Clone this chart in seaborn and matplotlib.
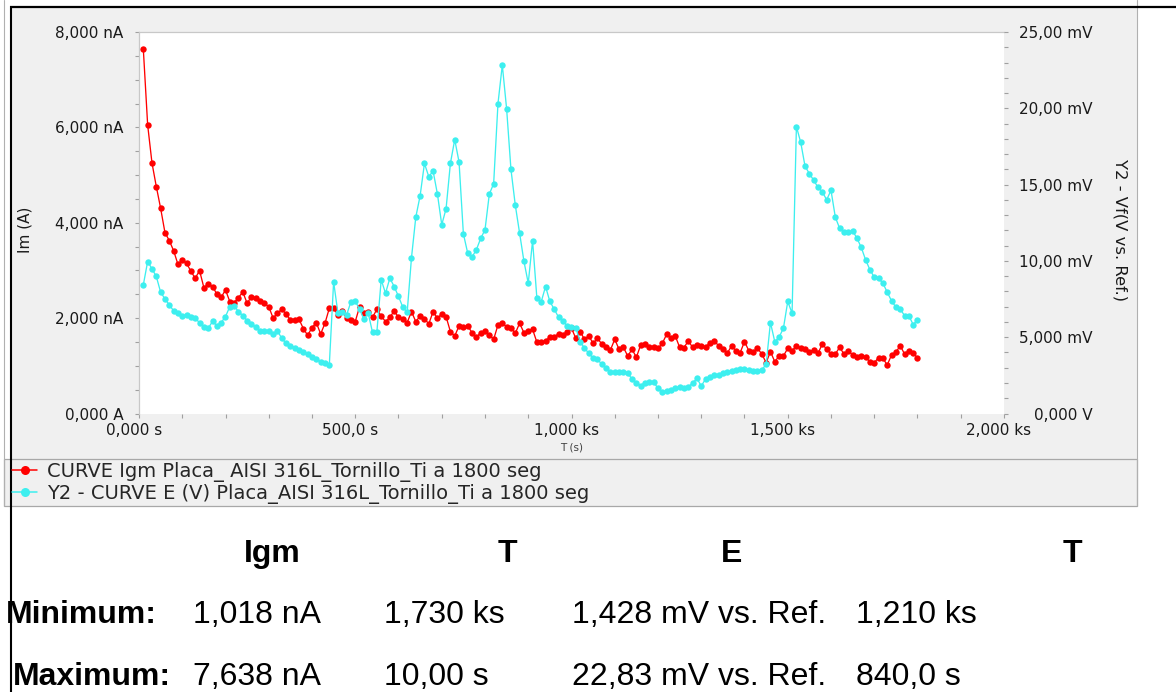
import numpy as np
import matplotlib
matplotlib.use("Agg")
import matplotlib.pyplot as plt
import seaborn as sns
from matplotlib.ticker import FixedLocator, FixedFormatter, MultipleLocator
from matplotlib.patches import Rectangle
from matplotlib.transforms import ScaledTranslation

# ---------------- data ----------------
time_s = np.arange(10, 1801, 10)

igm_nA = [
    7638, 6052, 5255, 4759, 4304, 3794, 3626, 3416, 3129, 3220,
    3150, 2983, 2836, 2997, 2640, 2717, 2661, 2507, 2437, 2591,
    2346, 2325, 2430, 2549, 2311, 2451, 2416, 2367, 2311, 2241,
    2003, 2101, 2185, 2087, 1962, 1962, 1976, 1780, 1640, 1801,
    1906, 1668, 1892, 2206, 2206, 2066, 2150, 1997, 1962, 1927,
    2241, 2101, 2136, 2017, 2185, 2045, 1927, 2017, 2150, 2017,
    1990, 1906, 2136, 1927, 2045, 1990, 1878, 2136, 1997, 2087,
    2031, 1717, 1626, 1836, 1808, 1836, 1696, 1598, 1696, 1731,
    1647, 1556, 1857, 1892, 1822, 1801, 1682, 1892, 1696, 1738,
    1766, 1493, 1493, 1528, 1598, 1612, 1668, 1647, 1717, 1787,
    1577, 1717, 1556, 1626, 1472, 1577, 1458, 1402, 1332, 1556,
    1346, 1388, 1206, 1346, 1178, 1437, 1458, 1402, 1388, 1367,
    1472, 1661, 1577, 1626, 1388, 1381, 1521, 1388, 1437, 1416,
    1388, 1486, 1521, 1423, 1346, 1262, 1416, 1318, 1276, 1507,
    1318, 1297, 1367, 1248, 1066, 1297, 1087, 1206, 1206, 1367,
    1318, 1416, 1367, 1346, 1297, 1332, 1262, 1458, 1346, 1248,
    1248, 1388, 1248, 1318, 1227, 1192, 1206, 1192, 1073, 1066,
    1171, 1157, 1018, 1227, 1283, 1423, 1248, 1318, 1262, 1171,
]

e_mV = [
    8.43, 9.96, 9.48, 8.98, 7.95, 7.51, 7.12, 6.73, 6.57, 6.40,
    6.46, 6.35, 6.29, 5.92, 5.70, 5.59, 6.03, 5.76, 5.96, 6.35,
    7.01, 7.05, 6.68, 6.42, 6.09, 5.87, 5.65, 5.41, 5.41, 5.41,
    5.22, 5.41, 4.93, 4.60, 4.45, 4.32, 4.17, 4.04, 3.88, 3.73,
    3.58, 3.40, 3.29, 3.16, 8.63, 6.57, 6.62, 6.46, 7.32, 7.36,
    6.84, 6.18, 6.57, 5.31, 5.35, 8.76, 7.88, 8.87, 8.32, 7.67,
    6.97, 6.62, 10.20, 12.87, 14.27, 16.39, 15.52, 15.89, 14.38, 12.37,
    13.42, 16.39, 17.95, 16.48, 11.78, 10.51, 10.25, 10.73, 11.47, 12.04,
    14.38, 15.06, 20.31, 22.83, 19.96, 16.00, 13.66, 11.84, 9.98, 8.54,
    11.32, 7.54, 7.32, 8.32, 7.34, 6.84, 6.31, 6.03, 5.76, 5.70,
    5.60, 4.71, 4.28, 3.95, 3.62, 3.55, 3.23, 2.96, 2.75, 2.70,
    2.75, 2.75, 2.64, 2.26, 2.02, 1.83, 2.02, 2.09, 2.05, 1.65,
    1.43, 1.45, 1.54, 1.65, 1.72, 1.65, 1.76, 1.98, 2.31, 1.80,
    2.26, 2.42, 2.53, 2.53, 2.64, 2.70, 2.81, 2.85, 2.92, 2.90,
    2.85, 2.81, 2.81, 2.85, 3.23, 5.96, 4.71, 5.00, 5.59, 7.34,
    6.57, 18.80, 17.77, 16.20, 15.72, 15.28, 14.82, 14.51, 14.01, 14.62,
    12.87, 12.13, 11.87, 11.87, 11.97, 11.49, 10.88, 10.07, 9.42, 8.93,
    8.85, 8.54, 7.95, 7.38, 6.97, 6.84, 6.42, 6.40, 5.83, 6.14,
]

x_ticks = [0, 500, 1000, 1500, 2000]
x_labels = ["0,000 s", "500,0 s", "1,000 ks", "1,500 ks", "2,000 ks"]
y1_ticks = [0, 2000, 4000, 6000, 8000]
y1_labels = ["0,000 A", "2,000 nA", "4,000 nA", "6,000 nA", "8,000 nA"]
y2_ticks = [0, 5, 10, 15, 20, 25]
y2_labels = ["0,000 V", "5,000 mV", "10,00 mV", "15,00 mV", "20,00 mV", "25,00 mV"]

series_labels = ["CURVE Igm Placa_ AISI 316L_Tornillo_Ti a 1800 seg",
                 "Y2 - CURVE E (V) Placa_AISI 316L_Tornillo_Ti a 1800 seg"]
x_title = "T (s)"
y1_title = "Im (A)"
y2_title = "Y2 - Vf(V vs. Ref.)"

table_header = ["Igm", "T", "E", "T"]
row_names = ["Minimum:", "Maximum:"]
row_min = ["1,018 nA", "1,730 ks", "1,428 mV vs. Ref.", "1,210 ks"]
row_max = ["7,638 nA", "10,00 s", "22,83 mV vs. Ref.", "840,0 s"]

# ---------------- style ----------------
sns.set_style("white")
plt.rcParams['font.family'] = ['DejaVu Sans']

RED = '#FF0000'
CYAN = '#3DEFEF'
PANEL = '#F0F0F0'
TXT = '#1A1A1A'

W, H = 1176, 692
fig = plt.figure(figsize=(W / 100, H / 100), dpi=100)
fig.patch.set_facecolor('white')

# background / frame in pixel coordinates
bg = fig.add_axes([0, 0, 1, 1], zorder=0)
bg.set_xlim(0, W)
bg.set_ylim(H, 0)
bg.axis('off')
bg.add_patch(Rectangle((10, 6), 1127, 500, facecolor=PANEL, edgecolor='none'))
bg.add_patch(Rectangle((4, 459), 1133, 47, facecolor=PANEL, edgecolor='#A8A8A8', lw=0.9))
bg.plot([4, 4], [0, 506], color='#B0B0B0', lw=0.8)
bg.plot([1137, 1137], [0, 506], color='#B0B0B0', lw=0.8)
bg.plot([10, W], [6.5, 6.5], color='black', lw=1.6, solid_capstyle='butt')
bg.plot([10.5, 10.5], [6, H], color='black', lw=1.5, solid_capstyle='butt')

# ---------------- plot ----------------
ax = fig.add_axes([139 / W, 1 - 413.5 / H, 865 / W, 381.5 / H], zorder=1)
ax.set_facecolor('white')
sns.lineplot(x=time_s, y=igm_nA, ax=ax, color=RED, marker='o', markersize=4.6,
             markeredgewidth=0, linewidth=0.95, label=series_labels[0])
ax2 = ax.twinx()
sns.lineplot(x=time_s, y=e_mV, ax=ax2, color=CYAN, marker='o', markersize=4.6,
             markeredgewidth=0, linewidth=0.95, label=series_labels[1])

h1, l1 = ax.get_legend_handles_labels()
h2, l2 = ax2.get_legend_handles_labels()
for a in (ax, ax2):
    if a.get_legend() is not None:
        a.get_legend().remove()

ax.set_xlim(0, 2000)
ax.set_ylim(0, 8000)
ax2.set_ylim(0, 25)

ax.xaxis.set_major_locator(FixedLocator(x_ticks))
ax.xaxis.set_major_formatter(FixedFormatter(x_labels))
ax.xaxis.set_minor_locator(MultipleLocator(100))
ax.yaxis.set_major_locator(FixedLocator(y1_ticks))
ax.yaxis.set_major_formatter(FixedFormatter(y1_labels))
ax.yaxis.set_minor_locator(MultipleLocator(500))
ax2.yaxis.set_major_locator(FixedLocator(y2_ticks))
ax2.yaxis.set_major_formatter(FixedFormatter(y2_labels))
ax2.yaxis.set_minor_locator(MultipleLocator(1))

tick_kw = dict(which='both', direction='out', length=3.2, width=0.8, color='#A0A0A0',
               labelsize=11, labelcolor=TXT)
ax.tick_params(axis='x', bottom=True, top=False, pad=3.4, **tick_kw)
ax.tick_params(axis='y', left=True, right=False, pad=8, **tick_kw)
ax2.tick_params(axis='y', right=True, left=False, labelright=True, labelleft=False,
                pad=60.5, **tick_kw)
ax2.tick_params(axis='x', bottom=False, top=False, labelbottom=False)

for s in ['right', 'bottom']:
    ax.spines[s].set_visible(False)
for s in ['top', 'left']:
    ax.spines[s].set_color('#C8C8C8')
    ax.spines[s].set_linewidth(0.9)
for s in ax2.spines.values():
    s.set_visible(False)

ax.set_xlabel(x_title, fontsize=7.5, color='#404040')
ax.xaxis.set_label_coords(0.5, -(447.5 - 413.5) / 381.5)
ax.xaxis.label.set_va('center')
ax.set_ylabel(y1_title, fontsize=11, color=TXT)
ax.yaxis.set_label_coords((25 - 139) / 865, (413.5 - 230) / 381.5)
ax.yaxis.label.set_va('center')
ax2.set_ylabel(y2_title, fontsize=11.8, color=TXT, rotation=-90)
ax2.yaxis.set_label_coords((1120 - 139) / 865, (413.5 - 230) / 381.5)
ax2.yaxis.label.set_va('center')

fig.canvas.draw()
shift = ScaledTranslation(-5 / 100, 0, fig.dpi_scale_trans)
for lbl in ax.get_xticklabels():
    lbl.set_transform(lbl.get_transform() + shift)
for lbl in ax2.get_yticklabels():
    lbl.set_ha('right')

leg = fig.legend(h1 + h2, l1 + l2, loc='upper left', bbox_to_anchor=(12 / W, 1 - 462 / H),
                 frameon=False, fontsize=14, handlelength=1.3, handletextpad=0.5,
                 labelspacing=0.08, borderpad=0, borderaxespad=0)
for hd in leg.legend_handles:
    hd.set_markersize(6.5)
    hd.set_linewidth(1.1)

# ---------------- statistics table ----------------
tfont = dict(fontsize=23, family=['Liberation Sans', 'DejaVu Sans'], color='black')
header_x = [272, 507, 732, 1072]
for x, s in zip(header_x, table_header):
    bg.text(x, 562, s, ha='center', va='baseline', fontweight='bold', **tfont)
bg.text(6, 623, row_names[0], ha='left', va='baseline', fontweight='bold', **tfont)
bg.text(13, 685, row_names[1], ha='left', va='baseline', fontweight='bold', **tfont)
col_x = [193, 384, 572, 856]
for x, s in zip(col_x, row_min):
    bg.text(x, 623, s, ha='left', va='baseline', **tfont)
for x, s in zip(col_x, row_max):
    bg.text(x, 685, s, ha='left', va='baseline', **tfont)

fig.savefig('out.png', dpi=100, facecolor='white')
